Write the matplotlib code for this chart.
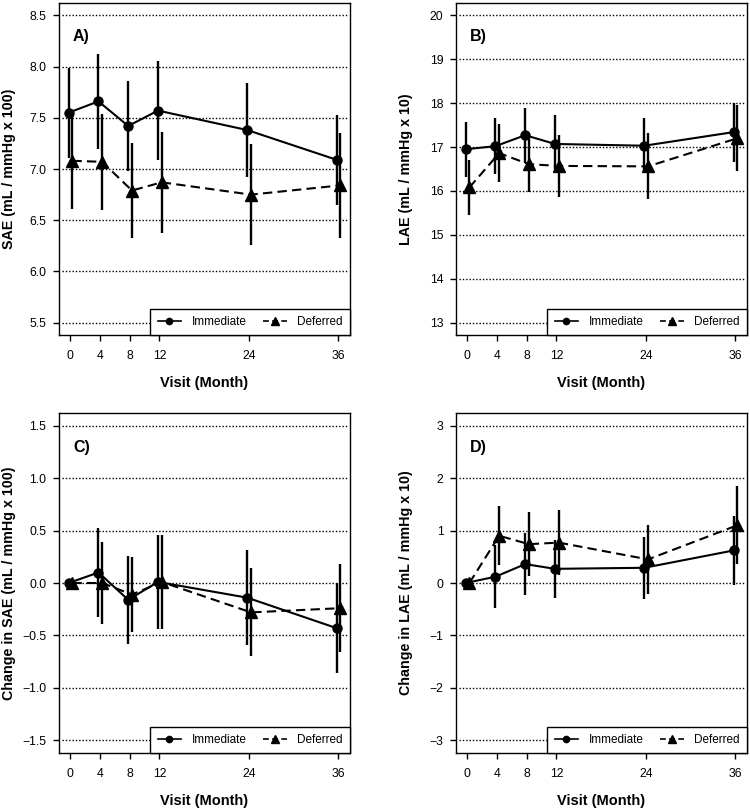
import matplotlib
matplotlib.use("Agg")
import matplotlib.pyplot as plt
from matplotlib.lines import Line2D
from matplotlib.legend_handler import HandlerLine2D
import numpy as np

plt.rcParams['font.family'] = ['Liberation Sans', 'DejaVu Sans']

months = [0, 4, 8, 12, 24, 36]
xtick_labels = ["0", "4", "8", "12", "24", "36"]

A_imm = [7.55, 7.66, 7.42, 7.57, 7.38, 7.09]
A_imm_err = [0.44, 0.46, 0.44, 0.48, 0.46, 0.44]
A_def = [7.08, 7.07, 6.79, 6.87, 6.75, 6.84]
A_def_err = [0.47, 0.47, 0.46, 0.49, 0.49, 0.51]

B_imm = [16.95, 17.02, 17.27, 17.07, 17.03, 17.34]
B_imm_err = [0.63, 0.64, 0.63, 0.67, 0.63, 0.67]
B_def = [16.08, 16.86, 16.61, 16.57, 16.56, 17.20]
B_def_err = [0.62, 0.66, 0.64, 0.70, 0.75, 0.75]

C_imm = [0.0, 0.10, -0.16, 0.01, -0.14, -0.43]
C_imm_err = [0.0, 0.42, 0.42, 0.45, 0.45, 0.43]
C_def = [0.0, 0.0, -0.11, 0.01, -0.28, -0.24]
C_def_err = [0.0, 0.39, 0.36, 0.45, 0.42, 0.42]

D_imm = [0.0, 0.12, 0.36, 0.27, 0.29, 0.62]
D_imm_err = [0.0, 0.60, 0.59, 0.55, 0.59, 0.65]
D_def = [0.0, 0.90, 0.74, 0.77, 0.45, 1.10]
D_def_err = [0.0, 0.56, 0.61, 0.62, 0.66, 0.74]

panels = [
    dict(label="A)", imm=A_imm, imm_err=A_imm_err, dfr=A_def, dfr_err=A_def_err,
         yticks=[5.5, 6.0, 6.5, 7.0, 7.5, 8.0, 8.5], yfmt="{:.1f}",
         ylabel="SAE (mL / mmHg x 100)", pos=[59, 3, 350, 335]),
    dict(label="B)", imm=B_imm, imm_err=B_imm_err, dfr=B_def, dfr_err=B_def_err,
         yticks=[13, 14, 15, 16, 17, 18, 19, 20], yfmt="{:.0f}",
         ylabel="LAE (mL / mmHg x 10)", pos=[456, 3, 747, 335]),
    dict(label="C)", imm=C_imm, imm_err=C_imm_err, dfr=C_def, dfr_err=C_def_err,
         yticks=[-1.5, -1.0, -0.5, 0.0, 0.5, 1.0, 1.5], yfmt="{:.1f}",
         ylabel="Change in SAE (mL / mmHg x 100)", pos=[59, 413, 350, 753]),
    dict(label="D)", imm=D_imm, imm_err=D_imm_err, dfr=D_def, dfr_err=D_def_err,
         yticks=[-3, -2, -1, 0, 1, 2, 3], yfmt="{:.0f}",
         ylabel="Change in LAE (mL / mmHg x 10)", pos=[456, 413, 747, 753]),
]

W, H = 750, 811
fig = plt.figure(figsize=(W / 100, H / 100), dpi=100)


class EndMarkerHandler(HandlerLine2D):
    def get_xdata(self, legend, xdescent, ydescent, width, height, fontsize):
        xdata = [-xdescent, -xdescent + width]
        xdata_marker = [-xdescent + width]
        return xdata, xdata_marker


off_imm, off_def = -0.2, 0.3
x = np.array(months, dtype=float)

for p in panels:
    l, t, r, b = p["pos"]
    ax = fig.add_axes([l / W, 1 - b / H, (r - l) / W, (b - t) / H])
    yt = p["yticks"]
    rng = yt[-1] - yt[0]
    ax.set_ylim(yt[0] - 0.04 * rng, yt[-1] + 0.04 * rng)
    ax.set_xlim(-1.5, 37.6)

    for v in yt:
        ax.axhline(v, xmin=0.012, xmax=0.988, color="black", lw=1.0,
                   linestyle=(0, (1, 1.4)), zorder=1)

    ax.errorbar(x + off_imm, p["imm"], yerr=p["imm_err"], fmt="none",
                ecolor="black", elinewidth=1.7, capsize=0, zorder=2)
    ax.errorbar(x + off_def, p["dfr"], yerr=p["dfr_err"], fmt="none",
                ecolor="black", elinewidth=1.7, capsize=0, zorder=2)
    ax.plot(x + off_imm, p["imm"], color="black", lw=1.5, marker="o",
            markersize=6.5, zorder=3)
    ax.plot(x + off_def, p["dfr"], color="black", lw=1.5,
            linestyle=(0, (4.5, 2.5)), marker="^", markersize=8, zorder=3)

    ax.set_xticks(months)
    ax.set_xticklabels(xtick_labels)
    ax.set_yticks(yt)
    ax.set_yticklabels([p["yfmt"].format(v).replace("-", "\u2212") for v in yt])
    ax.tick_params(axis="both", direction="out", length=4, width=1,
                   labelsize=8.8, color="black")
    ax.tick_params(axis="x", pad=7)
    ax.tick_params(axis="y", pad=5)
    for s in ax.spines.values():
        s.set_linewidth(1.0)

    ax.set_xlabel("Visit (Month)", fontsize=10.5, fontweight="bold", va="center")
    ax.xaxis.set_label_coords(0.5, -48 / (b - t))
    ax.set_ylabel(p["ylabel"], fontsize=10.3, fontweight="bold", va="center")
    ax.yaxis.set_label_coords(-0.172, 0.5)

    ax.text(0.048, 1 - 34 / (b - t), p["label"], transform=ax.transAxes,
            fontsize=11.5, fontweight="bold", ha="left", va="center")

    h1 = Line2D([], [], color="black", lw=1.2, marker="o", markersize=4.5)
    h2 = Line2D([], [], color="black", lw=1.2, linestyle=(0, (3.5, 2)),
                marker="^", markersize=5.5)
    leg = ax.legend([h1, h2], ["Immediate", "Deferred"], loc="lower right",
                    bbox_to_anchor=(1, 0), borderaxespad=0, ncol=2,
                    fontsize=8.5, frameon=True, fancybox=False,
                    handlelength=2.0, handletextpad=0.9, columnspacing=1.4,
                    borderpad=0.6, handler_map={Line2D: EndMarkerHandler()})
    leg.get_frame().set_edgecolor("black")
    leg.get_frame().set_linewidth(1.0)
    leg.get_frame().set_alpha(1)
    leg.set_zorder(5)

fig.savefig("out.png", dpi=100)
